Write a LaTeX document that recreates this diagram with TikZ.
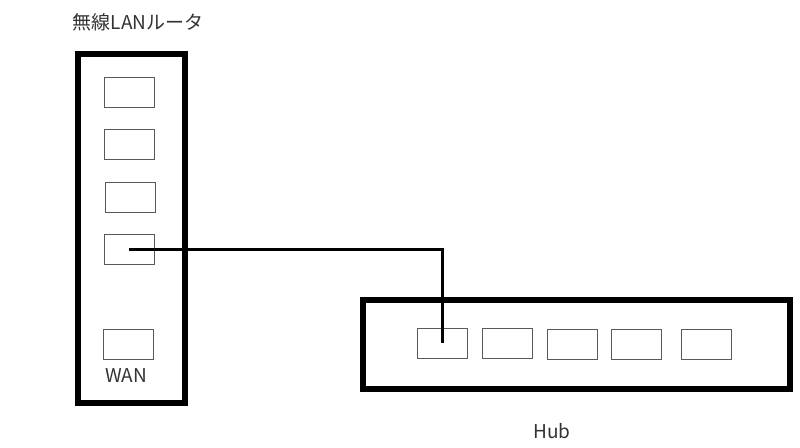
\documentclass[tikz,border=0pt]{standalone}
\usepackage{fontspec}
\setmainfont{Noto Sans CJK JP}
\begin{document}
\begin{tikzpicture}[x=1pt,y=-1pt,
  case/.style={draw=black,line width=6pt},
  port/.style={draw=black!65,line width=1pt,minimum width=50pt,minimum height=30pt,inner sep=0pt},
  wire/.style={draw=black,line width=3pt},
  lbl/.style={text=black!80,font=\fontsize{19}{21}\selectfont,inner sep=0pt}]
\useasboundingbox (0,0) rectangle (800,447);
% router
\draw[case] (78,54) rectangle (185,403);
\node[lbl] (title) at (138,22) {無線LANルータ};
\node[port] (r1) at (129,92) {};
\node[port] (r2) at (129,144.5) {};
\node[port] (r3) at (130.5,197) {};
\node[port] (r4) at (129,249) {};
\node[port] (wan) at (128,344) {};
\node[lbl] (wanl) at (126,376) {WAN};
% hub
\draw[case] (363,300) rectangle (790,389);
\node[port] (h1) at (442.5,343) {};
\node[port] (h2) at (507,343) {};
\node[port] (h3) at (572,344) {};
\node[port] (h4) at (636,344) {};
\node[port] (h5) at (706.5,344) {};
\node[lbl] (hubl) at (552,431) {Hub};
% wire
\coordinate (bend) at (h1.center |- r4.center);
\draw[wire] (r4.center) -- (bend) -- (h1.center);
\end{tikzpicture}
\end{document}
